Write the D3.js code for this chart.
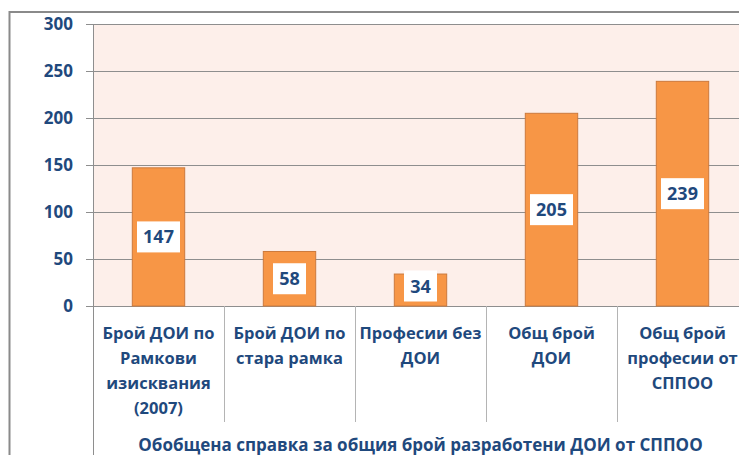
<!DOCTYPE html>
<html>
<head>
    <meta charset="UTF-8">
    <title>Обобщена справка за общия брой разработени ДОИ от СППОО</title>
    <style>
        body {
            margin: 0;
            padding: 0;
            background: #fff;
            overflow: hidden;
        }
        text {
            font-family: "Open Sans", sans-serif;
            font-weight: bold;
            fill: #1f497d;
        }
    </style>
    <script src="https://d3js.org/d3.v7.min.js"></script>
</head>
<body>
    <div id="chart"></div>
    <script>
        // data
        var categories = [
            "Брой ДОИ по\nРамкови\nизисквания\n(2007)",
            "Брой ДОИ по\nстара рамка",
            "Професии без\nДОИ",
            "Общ брой\nДОИ",
            "Общ брой\nпрофесии от\nСППОО"
        ];
        var values = [147, 58, 34, 205, 239];
        var yTicks = [0, 50, 100, 150, 200, 250, 300];
        var axisTitle = "Обобщена справка за общия брой разработени ДОИ от СППОО";

        var W = 739, H = 455;
        var plot = {left: 93, top: 24, right: 748, bottom: 306};

        var svg = d3.select("#chart").append("svg")
            .attr("width", W)
            .attr("height", H);

        // outer chart frame (runs off the right and bottom edges)
        svg.append("rect")
            .attr("x", 9.5).attr("y", 12)
            .attr("width", 800).attr("height", 500)
            .attr("fill", "#fff")
            .attr("stroke", "#8a8a8a")
            .attr("stroke-width", 2);

        var x = d3.scaleBand()
            .domain(d3.range(categories.length))
            .range([plot.left, plot.right])
            .paddingInner(0.6)
            .paddingOuter(0.3);

        var y = d3.scaleLinear()
            .domain([0, 300])
            .range([plot.bottom, plot.top]);

        // plot background
        svg.append("rect")
            .attr("x", plot.left).attr("y", plot.top)
            .attr("width", plot.right - plot.left)
            .attr("height", plot.bottom - plot.top)
            .attr("fill", "#fdefea");

        // gridlines with tick marks
        svg.append("g").selectAll("line")
            .data(yTicks)
            .enter().append("line")
            .attr("x1", plot.left - 7)
            .attr("x2", plot.right)
            .attr("y1", function (d) { return Math.round(y(d)) + 0.5; })
            .attr("y2", function (d) { return Math.round(y(d)) + 0.5; })
            .attr("stroke", "#8e8e8e")
            .attr("stroke-width", 1);

        // y tick labels
        svg.append("g").selectAll("text")
            .data(yTicks)
            .enter().append("text")
            .attr("x", 73)
            .attr("y", function (d) { return y(d) + 6; })
            .attr("text-anchor", "end")
            .style("font-size", "17px")
            .text(function (d) { return d; });

        // vertical axis line, running down through the category area
        svg.append("line")
            .attr("x1", plot.left + 0.5).attr("x2", plot.left + 0.5)
            .attr("y1", plot.top).attr("y2", H)
            .attr("stroke", "#8e8e8e");

        // category separators
        var catW = (plot.right - plot.left) / categories.length;
        svg.append("g").selectAll("line")
            .data(d3.range(1, categories.length + 1))
            .enter().append("line")
            .attr("x1", function (i) { return Math.round(plot.left + i * catW) + 0.5; })
            .attr("x2", function (i) { return Math.round(plot.left + i * catW) + 0.5; })
            .attr("y1", plot.bottom)
            .attr("y2", 422)
            .attr("stroke", "#b4b4b4");

        // bars
        svg.append("g").selectAll("rect")
            .data(values)
            .enter().append("rect")
            .attr("x", function (d, i) { return x(i); })
            .attr("y", function (d) { return y(d); })
            .attr("width", x.bandwidth())
            .attr("height", function (d) { return plot.bottom - y(d); })
            .attr("fill", "#f79646")
            .attr("stroke", "#cc7a3c")
            .attr("stroke-width", 1);

        // value labels in white boxes
        var lab = svg.append("g").selectAll("g")
            .data(values)
            .enter().append("g")
            .attr("transform", function (d, i) {
                var cy = Math.min((y(d) + plot.bottom) / 2, plot.bottom - 20);
                return "translate(" + (x(i) + x.bandwidth() / 2) + "," + cy + ")";
            });

        lab.append("rect")
            .attr("x", function (d) { return String(d).length > 2 ? -21.5 : -16.5; })
            .attr("y", -15.5)
            .attr("width", function (d) { return String(d).length > 2 ? 43 : 33; })
            .attr("height", 31)
            .attr("fill", "#fff");

        lab.append("text")
            .attr("text-anchor", "middle")
            .attr("y", 6.5)
            .style("font-size", "18px")
            .text(function (d) { return d; });

        // category labels, one tspan per line
        var cat = svg.append("g").selectAll("text")
            .data(categories)
            .enter().append("text")
            .attr("text-anchor", "middle")
            .style("font-size", "16.5px");

        cat.each(function (d, i) {
            var t = d3.select(this);
            var cx = x(i) + x.bandwidth() / 2;
            d.split("\n").forEach(function (line, k) {
                t.append("tspan")
                    .attr("x", cx)
                    .attr("y", 339 + k * 25)
                    .text(line);
            });
        });

        // axis title
        svg.append("text")
            .attr("x", (plot.left + plot.right) / 2)
            .attr("y", 451)
            .attr("text-anchor", "middle")
            .style("font-size", "17px")
            .text(axisTitle);
    </script>
</body>
</html>
